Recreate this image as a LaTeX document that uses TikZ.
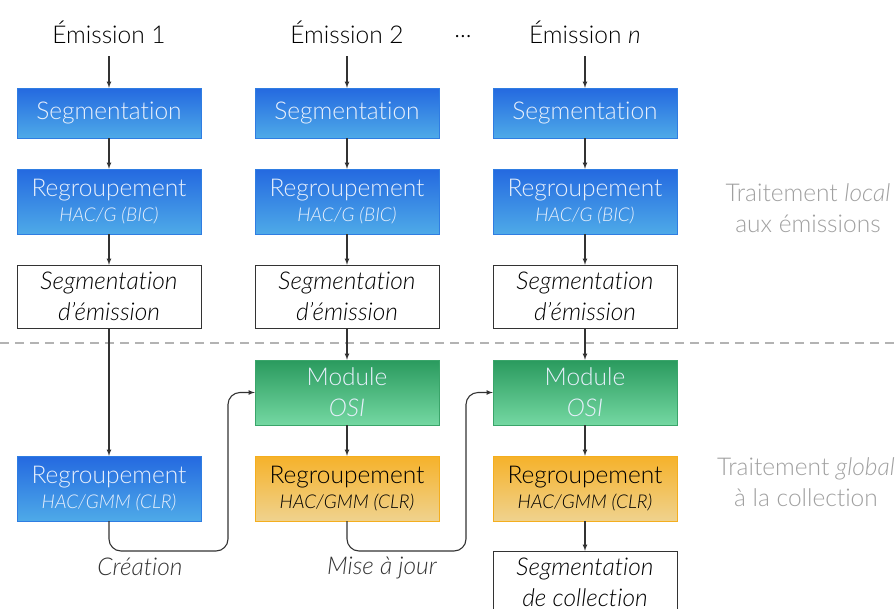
\documentclass[tikz,border=0pt]{standalone}
\usepackage{fontspec}
\setmainfont{Lato}[UprightFont={* Light},ItalicFont={* Light Italic},Ligatures=NoCommon]
\definecolor{bleuhaut}{HTML}{2469E0}
\definecolor{bleubas}{HTML}{4EAAE8}
\definecolor{bleubord}{HTML}{2F7DE2}
\definecolor{verthaut}{HTML}{2A9A5E}
\definecolor{vertbas}{HTML}{74D8A2}
\definecolor{vertbord}{HTML}{3AA56A}
\definecolor{orhaut}{HTML}{F6B22A}
\definecolor{orbas}{HTML}{EFD28E}
\definecolor{orbord}{HTML}{F4AE1E}
\definecolor{clair}{HTML}{E8F0FC}
\definecolor{trait}{HTML}{333333}
\definecolor{gris}{HTML}{A0A0A0}
\begin{document}
\begin{tikzpicture}[x=1pt,y=-1pt,>=latex]
\tikzstyle{every node}=[font=\fontsize{24.5}{31}\selectfont]
\tikzstyle{boite}=[rectangle,minimum width=184pt,inner sep=0pt,align=center]
\tikzstyle{bleu}=[boite,draw=bleubord,top color=bleuhaut,bottom color=bleubas,text=clair]
\tikzstyle{vert}=[boite,minimum height=65pt,draw=vertbord,top color=verthaut,bottom color=vertbas,text=clair]
\tikzstyle{orange}=[boite,minimum height=65pt,draw=orbord,top color=orhaut,bottom color=orbas,text=black]
\tikzstyle{blanc}=[boite,minimum height=63pt,draw=trait,fill=white,font=\fontsize{24.5}{31}\selectfont\itshape]
\tikzstyle{fleche}=[->,draw=trait,line width=1.1pt]
\tikzstyle{note}=[text=gris,align=center]
\clip (0,0) rectangle (896,608);
\fill[white] (0,0) rectangle (896,608);
% traitement local
\foreach \i/\x/\lab in {1/109/1, 2/347/2, n/585/\textit{n}}{
  \node (em\i) at (\x,32) {Émission \lab};
  \node[bleu,minimum height=50pt] (seg\i) at (\x,113) {Segmentation};
  \node[bleu,minimum height=65pt] (reg\i) at (\x,201.5)
    {Regroupement\\[-6pt]{\fontsize{19}{22}\selectfont\itshape HAC/G (BIC)}};
  \node[blanc] (segem\i) at (\x,296.5) {Segmentation\\d'émission};
  \draw[fleche] (\x,56) -- (seg\i.north);
  \draw[fleche] (seg\i) -- (reg\i);
  \draw[fleche] (reg\i) -- (segem\i);
}
\node (points) at (463,37) {...};
\draw[gris!80,line width=1.5pt,dash pattern=on 9pt off 6pt] (0,343) -- (896,343);
% traitement global
\node[bleu,minimum height=65pt] (glob1) at (109,488.5)
  {Regroupement\\[-6pt]{\fontsize{19}{22}\selectfont\itshape HAC/GMM (CLR)}};
\node[vert] (osi2) at (347,392.5) {Module\\\textit{OSI}};
\node[orange] (glob2) at (347,488.5)
  {Regroupement\\[-6pt]{\fontsize{19}{22}\selectfont\itshape HAC/GMM (CLR)}};
\node[vert] (osin) at (585,392.5) {Module\\\textit{OSI}};
\node[orange] (globn) at (585,488.5)
  {Regroupement\\[-6pt]{\fontsize{19}{22}\selectfont\itshape HAC/GMM (CLR)}};
\node[blanc] (segcol) at (585,582.5) {Segmentation\\de collection};
\draw[fleche] (segem1) -- (glob1);
\draw[fleche] (segem2) -- (osi2);
\draw[fleche] (segemn) -- (osin);
\draw[fleche] (osi2) -- (glob2);
\draw[fleche] (osin) -- (globn);
\draw[fleche] (globn) -- (segcol);
\coordinate (c1) at (228,551);
\coordinate (c2) at (466,551);
\draw[fleche,rounded corners=12pt] (glob1.south) |- (c1) |- (osi2.west);
\draw[fleche,rounded corners=12pt] (glob2.south) |- (c2) |- (osin.west);
\node[text=trait,font=\fontsize{24.5}{31}\selectfont\itshape] (creation) at (140,567) {Création};
\node[text=trait,font=\fontsize{24.5}{31}\selectfont\itshape] (maj) at (382,568) {Mise à jour};
% annotations
\node[note] (local) at (808,208) {Traitement \textit{local}\\aux émissions};
\node[note] (global) at (806,482) {Traitement \textit{global}\\à la collection};
\end{tikzpicture}
\end{document}
